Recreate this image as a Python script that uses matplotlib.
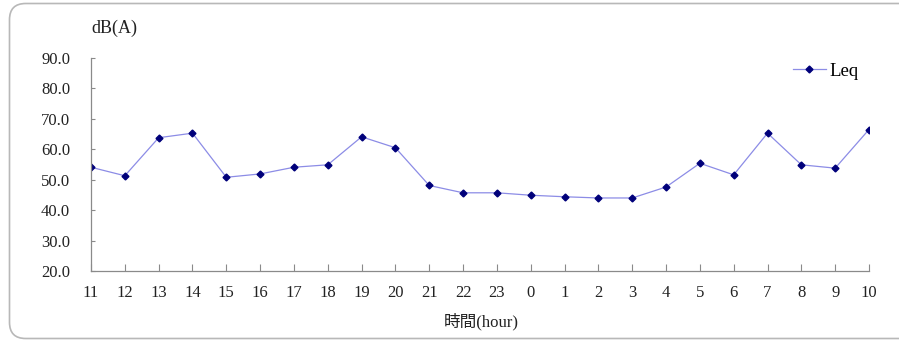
import matplotlib
matplotlib.use("Agg")
import matplotlib.pyplot as plt
from matplotlib.patches import FancyBboxPatch
from matplotlib.lines import Line2D

hours = ["11", "12", "13", "14", "15", "16", "17", "18", "19", "20", "21", "22",
         "23", "0", "1", "2", "3", "4", "5", "6", "7", "8", "9", "10"]
leq = [54.1, 51.3, 63.8, 65.3, 50.8, 51.9, 54.1, 54.9, 64.1, 60.5, 48.1, 45.7,
       45.7, 44.9, 44.4, 44.0, 44.0, 47.6, 55.4, 51.6, 65.3, 54.9, 53.8, 66.5]
y_ticks = [20, 30, 40, 50, 60, 70, 80, 90]

serif = ["Liberation Serif", "DejaVu Serif"]
cjk = ["Liberation Serif", "Noto Sans CJK TC", "DejaVu Sans"]
plt.rcParams["font.family"] = serif

LINE_C = "#8c8ce6"
MARK_C = "#00007a"
TEXT_C = "#222222"
AXIS_C = "#8a8a8a"

W, H = 899, 342
fig = plt.figure(figsize=(W / 100, H / 100), dpi=100)

# rounded frame around the chart (runs off the right edge)
frame = FancyBboxPatch((9.5 / W, 3.5 / H), 920 / W, 335 / H,
                       boxstyle="round,pad=0,rounding_size=0.018",
                       transform=fig.transFigure, fill=False,
                       edgecolor="#b8b8b8", linewidth=1.2,
                       mutation_aspect=W / H)
fig.patches.append(frame)

ax = fig.add_axes([91 / W, (H - 271) / H, (869 - 91) / W, (271 - 58) / H])
x = list(range(len(hours)))
ax.plot(x, leq, color=LINE_C, linewidth=0.9, marker="D", markersize=3.5,
        markerfacecolor=MARK_C, markeredgecolor=MARK_C)

ax.set_xlim(0, len(hours) - 1)
ax.set_ylim(20, 90)
ax.set_yticks(y_ticks)
ax.set_yticklabels([f"{v:.1f}" for v in y_ticks], fontsize=12, color=TEXT_C)
ax.set_xticks(x)
ax.set_xticklabels(hours, fontsize=12, color=TEXT_C)
for s in ("top", "right"):
    ax.spines[s].set_visible(False)
for s in ("left", "bottom"):
    ax.spines[s].set_color(AXIS_C)
    ax.spines[s].set_linewidth(0.9)
ax.tick_params(axis="y", direction="in", length=3, width=0.8, color=AXIS_C,
               pad=15)
ax.tick_params(axis="x", direction="in", length=5, width=0.8, color=AXIS_C,
               pad=10)

fig.text(91 / W, 1 - 28 / H, "dB(A)", fontsize=13, va="center", ha="left",
         color=TEXT_C)
fig.text(481 / W, 1 - 322 / H, "時間(hour)", fontsize=12, family=cjk,
         va="center", ha="center", color=TEXT_C)

leg_handle = Line2D([], [], color=LINE_C, linewidth=0.9, marker="D",
                    markersize=3.5, markerfacecolor=MARK_C,
                    markeredgecolor=MARK_C)
fig.legend([leg_handle], ["Leq"], loc="center left",
           bbox_to_anchor=(793 / W, 1 - 71 / H), frameon=False, fontsize=13.5,
           handlelength=1.75, handletextpad=0.2, borderpad=0,
           borderaxespad=0)

fig.savefig("out.png", dpi=100)
